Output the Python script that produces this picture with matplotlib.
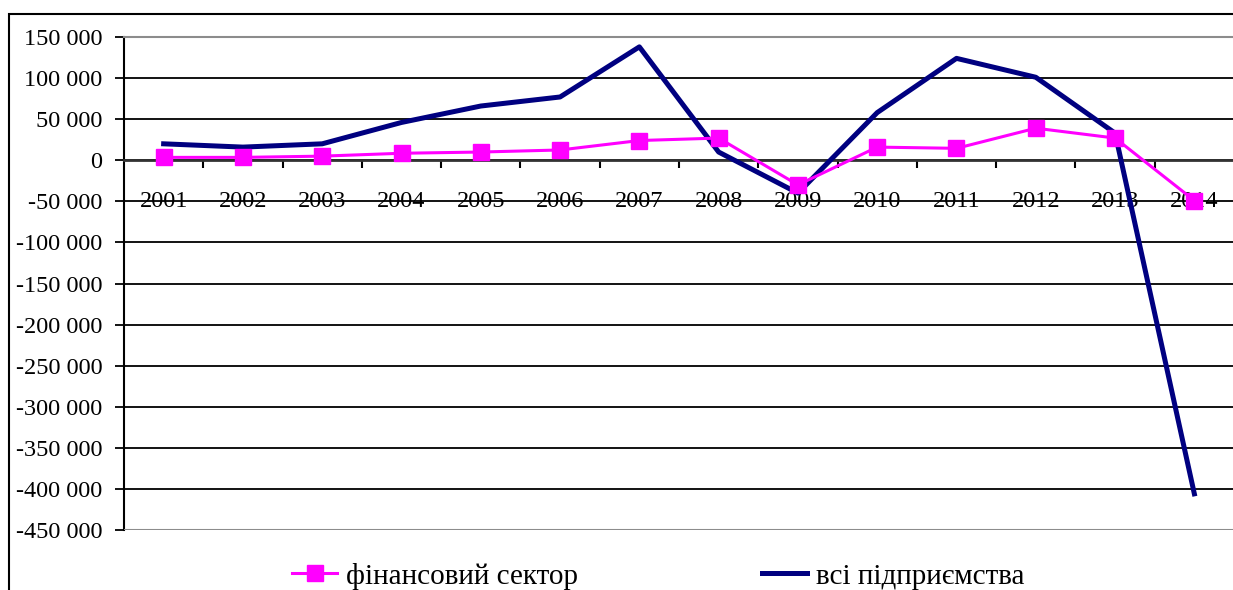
import matplotlib.pyplot as plt
from matplotlib.patches import Rectangle
from matplotlib.ticker import FuncFormatter, MultipleLocator, FixedLocator

plt.rcParams['font.family'] = ['Liberation Serif', 'DejaVu Serif']

years = ['2001', '2002', '2003', '2004', '2005', '2006', '2007',
         '2008', '2009', '2010', '2011', '2012', '2013', '2014']
fin_sector = [3500, 3500, 5000, 8500, 10000, 12500, 24000,
              27000, -30000, 16000, 14500, 39000, 27000, -49000]
all_firms = [20000, 16000, 20000, 46000, 66000, 77000, 138000,
             10000, -40000, 58000, 124000, 101000, 33000, -406000]

W, H = 1233, 590
fig = plt.figure(figsize=(W / 100, H / 100), dpi=100)
ax = fig.add_axes([124 / W, 60 / H, 1110 / W, 493 / H])

x = list(range(len(years)))
l_all, = ax.plot(x, all_firms, color='#000080', lw=3.6, zorder=3,
                 label='всі підприємства')
l_fin, = ax.plot(x, fin_sector, color='#FF00FF', lw=2.2, marker='s', ms=11,
                 zorder=4, label='фінансовий сектор')

ax.set_xlim(-0.5, len(years) - 0.5)
ax.set_ylim(-450000, 150000)
ax.yaxis.set_major_locator(MultipleLocator(50000))
ax.yaxis.set_major_formatter(FuncFormatter(lambda v, p: f'{int(v):,}'.replace(',', ' ')))
ax.grid(axis='y', color='black', lw=1.3)

# category axis sits on zero
ax.spines['bottom'].set_position(('data', 0))
ax.spines['bottom'].set_color('#333333')
ax.spines['bottom'].set_linewidth(2)
ax.spines['bottom'].set_zorder(2.7)
ax.spines['top'].set_color('#8c8c8c')
ax.spines['top'].set_linewidth(1.5)
ax.spines['right'].set_color('#8c8c8c')
ax.spines['left'].set_linewidth(1.5)
ax.axhline(-450000, color='#8c8c8c', lw=1.5, zorder=2.6)

ax.set_xticks(x, years)
ax.xaxis.set_minor_locator(FixedLocator([i + 0.5 for i in x[:-1]]))
ax.tick_params(axis='x', which='major', length=0, pad=22, labelsize=17.5)
ax.tick_params(axis='x', which='minor', direction='out', length=5.5, width=1.5)
ax.tick_params(axis='y', direction='out', length=6.5, width=1.3, pad=9, labelsize=17.5)

# outer chart frame
fig.patches.append(Rectangle((9 / W, -0.2), 1.2, 0.2 + (H - 14) / H,
                             transform=fig.transFigure, fill=False,
                             edgecolor='black', lw=1.5))

fig.legend([l_fin, l_all], ['фінансовий сектор', 'всі підприємства'],
           loc='center', bbox_to_anchor=(658 / W, 14 / H), ncol=2,
           frameon=False, fontsize=21, handlelength=1.55, handletextpad=0.3,
           columnspacing=6.3)

fig.savefig('out.png', dpi=100)
